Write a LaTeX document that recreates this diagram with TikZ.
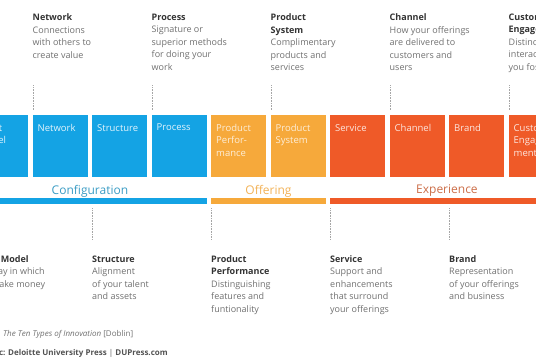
\documentclass[tikz,border=0pt]{standalone}
\usepackage{fontspec}
\setmainfont{Open Sans}
\usetikzlibrary{positioning, calc}
\definecolor{cfgBlue}{HTML}{14A3E4}
\definecolor{offOrange}{HTML}{F6A93B}
\definecolor{expRed}{HTML}{EF5A28}
\definecolor{cfgText}{HTML}{3A9CC4}
\definecolor{offText}{HTML}{F2B257}
\definecolor{expText}{HTML}{CC6E48}
\definecolor{titleGray}{HTML}{333333}
\definecolor{descGray}{HTML}{707070}
\newcommand{\typetitle}[1]{\textcolor{titleGray}{\bfseries #1}}

\begin{document}
\begin{tikzpicture}[
    x=1pt, y=-1pt,
    node distance=4.1pt,
    box/.style={rectangle, minimum width=55pt, minimum height=62pt, inner sep=0pt, anchor=north west},
    boxlbl/.style={anchor=north west, inner sep=0pt, xshift=5pt, yshift=-9pt, align=left, font=\fontsize{9.5}{12.5}\selectfont},
    cfg/.style={box, fill=cfgBlue, label={[boxlbl, text=white!88!cfgBlue]north west:#1}},
    off/.style={box, fill=offOrange, label={[boxlbl, text=white!80!offOrange]north west:#1}},
    exp/.style={box, fill=expRed, label={[boxlbl, text=white!85!expRed]north west:#1}},
    desc/.style={inner sep=0pt, align=left, text=descGray, font=\fontsize{9}{12.5}\selectfont},
    grp/.style={inner sep=0pt, font=\fontsize{12}{14}\selectfont},
    dotline/.style={draw=gray!70, densely dotted, line width=0.6pt}
]
    \useasboundingbox (0,0) rectangle (536,363);
    \clip (0,0) rectangle (536,363);

    % the ten boxes
    \node[cfg={Profit\\Model}] (pm) at (-27,115) {};
    \node[cfg=Network, right=of pm] (net) {};
    \node[cfg=Structure, right=of net] (str) {};
    \node[cfg=Process, right=of str] (proc) {};
    \node[off={Product\\Perfor-\\mance}, right=of proc] (perf) {};
    \node[off={Product\\System}, right=of perf] (sys) {};
    \node[exp=Service, right=of sys] (serv) {};
    \node[exp=Channel, right=of serv] (chan) {};
    \node[exp=Brand, right=of chan] (brand) {};
    \node[exp={Customer\\Engage-\\ment}, right=of brand] (cust) {};

    % category bars
    \fill[cfgBlue] ($(pm.south west)+(0,21)$) rectangle ($(proc.south east)+(0,27)$);
    \fill[offOrange] ($(perf.south west)+(0,21)$) rectangle ($(sys.south east)+(0,27)$);
    \fill[expRed] ($(serv.south west)+(0,21)$) rectangle ($(cust.south east)+(0,27)$);
    \node[grp, text=cfgText] (cfglbl) at ($(pm.south west)!0.5!(proc.south east)+(0,13.5)$) {Configuration};
    \node[grp, text=offText] (offlbl) at ($(perf.south west)!0.5!(sys.south east)+(0,13.5)$) {Offering};
    \node[grp, text=expText] (explbl) at ($(serv.south west)!0.5!(cust.south east)+(0,13.5)$) {Experience};

    % descriptions above
    \node[desc, above=101.5pt of net.north west, anchor=north west] (nettxt) {\typetitle{Network}\\Connections\\with others to\\create value};
    \node[desc, above=101.5pt of proc.north west, anchor=north west] (proctxt) {\typetitle{Process}\\Signature or\\superior methods\\for doing your\\work};
    \node[desc, above=101.5pt of sys.north west, anchor=north west] (systxt) {\typetitle{Product}\\\typetitle{System}\\Complimentary\\products and\\services};
    \node[desc, above=101.5pt of chan.north west, anchor=north west] (chantxt) {\typetitle{Channel}\\How your offerings\\are delivered to\\customers and\\users};
    \node[desc, above=101.5pt of cust.north west, anchor=north west] (custtxt) {\typetitle{Customer}\\\typetitle{Engagement}\\Distinctive\\interactions\\you foster};

    % descriptions below
    \node[desc, below=78pt of pm.south west, anchor=north west] (pmtxt) {\typetitle{Profit Model}\\The way in which\\you make money};
    \node[desc, below=78pt of str.south west, anchor=north west] (strtxt) {\typetitle{Structure}\\Alignment\\of your talent\\and assets};
    \node[desc, below=78pt of perf.south west, anchor=north west] (perftxt) {\typetitle{Product}\\\typetitle{Performance}\\Distinguishing\\features and\\funtionality};
    \node[desc, below=78pt of serv.south west, anchor=north west] (servtxt) {\typetitle{Service}\\Support and\\enhancements\\that surround\\your offerings};
    \node[desc, below=78pt of brand.south west, anchor=north west] (brandtxt) {\typetitle{Brand}\\Representation\\of your offerings\\and business};

    % dotted leaders
    \foreach \b in {net, proc, sys, chan, cust}
        \draw[dotline] (\b.north west) ++(0.5,-5) -- ++(0,-25);
    \foreach \b in {pm, str, perf, serv, brand}
        \draw[dotline] (\b.south west) ++(0.5,31) -- ++(0,31);

    % source lines
    \node[anchor=base west, inner sep=0pt, text=descGray, font=\fontsize{8}{9}\selectfont] (src) at (3,337) {\llap{Source: }\textit{The Ten Types of Innovation} [Doblin]};
    \node[anchor=base west, inner sep=0pt, text=titleGray!85, font=\fontsize{8}{9}\selectfont\bfseries] (credit) at (8,356) {\llap{Graphic: }Deloitte University Press {\mdseries|} DUPress.com};
\end{tikzpicture}
\end{document}
